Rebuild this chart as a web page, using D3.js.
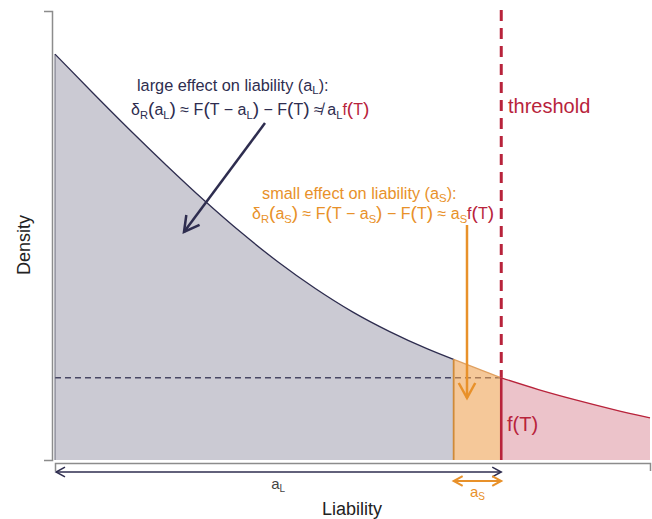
<!DOCTYPE html>
<meta charset="utf-8">
<script src="https://d3js.org/d3.v7.min.js"></script>
<style>
body { margin: 0; background: #fff; }
svg { font-family: "Liberation Sans", Arial, sans-serif; }
</style>
<body>
<script>
// density curve (liability in arbitrary units, density relative)
var liability = [0, 0.25, 0.5, 0.75, 1, 1.25, 1.5, 1.75, 2, 2.25, 2.5, 2.68, 3, 3.25, 3.5, 3.75, 4];
var density = [0.904, 0.819, 0.736, 0.656, 0.579, 0.507, 0.441, 0.382, 0.330, 0.286, 0.248, 0.224, 0.183, 0.157, 0.134, 0.113, 0.094];
var threshold = 3.0;
var aS = 0.32;   // small effect
var aL = 3.0;    // large effect

var data = liability.map(function(l, i) { return {l: l, d: density[i]}; });
var fT = density[liability.indexOf(threshold)];

var width = 652, height = 519;
var svg = d3.select("body").append("svg")
    .attr("width", width)
    .attr("height", height);

var x = d3.scaleLinear().domain([0, 4]).range([55, 650]);
var y = d3.scaleLinear().domain([0, 1]).range([460, 11]);

var navy = "#2e2d4f", red = "#b8233b", orange = "#e8912a", grey = "#8c8c8c";

// open chevron arrow heads
var defs = svg.append("defs");
function chevron(id, color, size, sw) {
  defs.append("marker")
      .attr("id", id)
      .attr("markerUnits", "userSpaceOnUse")
      .attr("viewBox", "-30 -15 32 30")
      .attr("markerWidth", 32).attr("markerHeight", 30)
      .attr("refX", 0).attr("refY", 0)
      .attr("orient", "auto-start-reverse")
      .style("overflow", "visible")
    .append("path")
      .attr("d", "M" + (-size) + "," + (-size * 0.55) + "L0,0L" + (-size) + "," + (size * 0.55))
      .attr("fill", "none")
      .attr("stroke", color)
      .attr("stroke-width", sw)
      .attr("stroke-linejoin", "miter");
}
chevron("navyBig", navy, 15, 2.5);
chevron("orangeBig", orange, 15, 2.5);
chevron("navySmall", navy, 9, 1.5);
chevron("orangeSmall", orange, 9, 2);

var area = d3.area()
    .x(function(d) { return x(d.l); })
    .y0(y(0))
    .y1(function(d) { return y(d.d); })
    .curve(d3.curveMonotoneX);
var line = d3.line()
    .x(function(d) { return x(d.l); })
    .y(function(d) { return y(d.d); })
    .curve(d3.curveMonotoneX);

var left = data.filter(function(d) { return d.l <= threshold - aS; });
var mid = data.filter(function(d) { return d.l >= threshold - aS && d.l <= threshold; });
var right = data.filter(function(d) { return d.l >= threshold; });

// dashed f(T) level (drawn under the fills)
svg.append("line")
    .attr("x1", x(0)).attr("x2", x(threshold))
    .attr("y1", y(fT)).attr("y2", y(fT))
    .attr("stroke", "#50506a")
    .attr("stroke-width", 1.5)
    .attr("stroke-dasharray", "6,4");

svg.append("path").datum(left).attr("d", area).attr("fill", navy).attr("fill-opacity", 0.25);
svg.append("path").datum(mid).attr("d", area).attr("fill", "#ec9a45").attr("fill-opacity", 0.55);
svg.append("path").datum(right).attr("d", area).attr("fill", red).attr("fill-opacity", 0.27);

svg.append("line")
    .attr("x1", x(0)).attr("x2", x(0))
    .attr("y1", y(0)).attr("y2", y(density[0]))
    .attr("stroke", "#6b6b7a").attr("stroke-width", 1);

svg.append("path").datum(left).attr("d", line).attr("fill", "none").attr("stroke", navy).attr("stroke-width", 1.3);
svg.append("path").datum(mid).attr("d", line).attr("fill", "none").attr("stroke", "#e0a060").attr("stroke-width", 1.3);
svg.append("path").datum(right).attr("d", line).attr("fill", "none").attr("stroke", red).attr("stroke-width", 1.3);

// boundaries
svg.append("line")
    .attr("x1", x(threshold - aS)).attr("x2", x(threshold - aS))
    .attr("y1", y(0)).attr("y2", y(density[liability.indexOf(threshold - aS)]))
    .attr("stroke", "#cf8a38").attr("stroke-width", 1.8);
svg.append("line")
    .attr("x1", x(threshold)).attr("x2", x(threshold))
    .attr("y1", y(0)).attr("y2", y(fT))
    .attr("stroke", red).attr("stroke-width", 2.6);
svg.append("line")
    .attr("x1", x(threshold)).attr("x2", x(threshold))
    .attr("y1", 10).attr("y2", y(fT))
    .attr("stroke", red).attr("stroke-width", 3)
    .attr("stroke-dasharray", "11,7");

// axes, no tick labels
svg.append("g")
    .attr("transform", "translate(52,0)")
    .call(d3.axisLeft(y).tickValues([]).tickSizeOuter(8))
    .call(function(g) { g.select(".domain").attr("stroke", grey).attr("stroke-width", 1.5); });
svg.append("g")
    .attr("transform", "translate(0,463)")
    .call(d3.axisBottom(x).tickValues([]).tickSizeOuter(8))
    .call(function(g) { g.select(".domain").attr("stroke", grey).attr("stroke-width", 1.5); });

// effect size arrows under the axis
svg.append("line")
    .attr("x1", x(threshold - aL) + 1).attr("x2", x(threshold))
    .attr("y1", 472).attr("y2", 472)
    .attr("stroke", navy).attr("stroke-width", 1.5)
    .attr("marker-start", "url(#navySmall)")
    .attr("marker-end", "url(#navySmall)");
svg.append("text")
    .attr("x", x(threshold - aL / 2)).attr("y", 489)
    .attr("text-anchor", "middle").attr("font-size", 15).attr("fill", "#444")
    .text("a").append("tspan").attr("font-size", 10).attr("dy", 3).text("L");

svg.append("line")
    .attr("x1", x(threshold - aS)).attr("x2", x(threshold))
    .attr("y1", 481).attr("y2", 481)
    .attr("stroke", orange).attr("stroke-width", 2)
    .attr("marker-start", "url(#orangeSmall)")
    .attr("marker-end", "url(#orangeSmall)");
svg.append("text")
    .attr("x", x(threshold - aS / 2)).attr("y", 497)
    .attr("text-anchor", "middle").attr("font-size", 15).attr("fill", orange)
    .text("a").append("tspan").attr("font-size", 10).attr("dy", 3).text("S");

// axis titles
svg.append("text")
    .attr("transform", "translate(30,245) rotate(-90)")
    .attr("text-anchor", "middle").attr("font-size", 18).attr("fill", "#222")
    .text("Density");
svg.append("text")
    .attr("x", 352).attr("y", 515)
    .attr("text-anchor", "middle").attr("font-size", 18).attr("fill", "#222")
    .text("Liability");

svg.append("text")
    .attr("x", 508).attr("y", 113)
    .attr("font-size", 20).attr("fill", red)
    .text("threshold");
svg.append("text")
    .attr("x", 507).attr("y", 431)
    .attr("font-size", 20).attr("fill", red)
    .text("f(T)");

// formula lines built from tspans
function mathLine(x0, y0, size, color, parts) {
  var t = svg.append("text").attr("x", x0).attr("y", y0).attr("font-size", size).attr("fill", color);
  var shift = 0;
  parts.forEach(function(p) {
    if (typeof p === "string") p = {t: p};
    var s = t.append("tspan").text(p.t);
    var want = p.sub ? 4 : 0;
    if (want !== shift) { s.attr("dy", want - shift); shift = want; }
    if (p.sub) s.attr("font-size", size * 0.7);
    if (p.big) s.attr("font-size", size * 1.2);
    if (p.fill) s.attr("fill", p.fill);
  });
  return t;
}
function sub(s) { return {t: s, sub: true}; }
function par(s, fill) { return {t: s, big: true, fill: fill}; }

function titleLine(x0, y0, size, color, label, subscript) {
  svg.append("text")
      .attr("x", x0).attr("y", y0)
      .attr("font-size", size).attr("fill", color)
      .text(label + " (a")
    .append("tspan").attr("font-size", size * 0.7).attr("dy", 3).text(subscript)
    .select(function() { return this.parentNode; })
    .append("tspan").attr("dy", -3).text("):");
}

titleLine(137, 91, 16.3, navy, "large effect on liability", "L");
mathLine(131, 115, 16, navy, [
  "δ", sub("R"), par("("), "a", sub("L"), par(")"), " ≈ F", par("("), "T − a", sub("L"), par(")"),
  " − F", par("("), "T", par(")"), " ≉ a", sub("L"),
  {t: "f", fill: red}, par("(", red), {t: "T", fill: red}, par(")", red)
]);

titleLine(262, 199, 16.3, orange, "small effect on liability", "S");
mathLine(252, 219, 16, orange, [
  "δ", sub("R"), par("("), "a", sub("S"), par(")"), " ≈ F", par("("), "T − a", sub("S"), par(")"),
  " − F", par("("), "T", par(")"), " ≈ a", sub("S"),
  {t: "f", fill: red}, par("(", red), {t: "T", fill: red}, par(")", red)
]);

// annotation arrows
svg.append("line")
    .attr("x1", 265).attr("y1", 123)
    .attr("x2", 184).attr("y2", 232)
    .attr("stroke", navy).attr("stroke-width", 2.5)
    .attr("marker-end", "url(#navyBig)");
svg.append("line")
    .attr("x1", 467).attr("y1", 225)
    .attr("x2", 467).attr("y2", 398)
    .attr("stroke", orange).attr("stroke-width", 2.5)
    .attr("marker-end", "url(#orangeBig)");
</script>
</body>
